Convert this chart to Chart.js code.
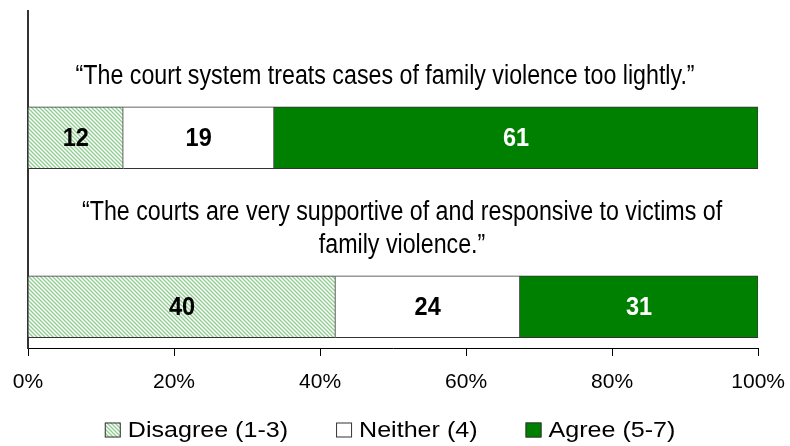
<!DOCTYPE html>
<html>
<head>
<meta charset="utf-8">
<script src="https://cdn.jsdelivr.net/npm/chart.js@4/dist/chart.umd.min.js"></script>
<style>
  html, body { margin: 0; padding: 0; background: #fff; }
  #wrap { width: 790px; height: 446px; }
</style>
</head>
<body>
<div id="wrap"><canvas id="stacked-chart" width="790" height="446"></canvas></div>
<script>
// survey statements, each shown above its own bar
var statements = [
  ['\u201cThe court system treats cases of family violence too lightly.\u201d'],
  ['\u201cThe courts are very supportive of and responsive to victims of', 'family violence.\u201d']
];
var seriesNames = ['Disagree (1-3)', 'Neither (4)', 'Agree (5-7)'];
var disagree = [12, 40];
var neither = [19, 24];
var agree = [61, 31];
var tickLabels = ['0%', '20%', '40%', '60%', '80%', '100%'];

// rows: caption slot, bar, caption slot, bar
var rowLabels = ['cap1', 'bar1', 'cap2', 'bar2'];
var barRows = [1, 3];

var SANS = '"Liberation Sans", Arial, sans-serif';

function hatchPattern() {
  var c = document.createElement('canvas');
  c.width = 4; c.height = 4;
  var g = c.getContext('2d');
  g.fillStyle = '#ffffff';
  g.fillRect(0, 0, 4, 4);
  g.strokeStyle = '#8fcc8f';
  g.lineWidth = 1.3;
  g.beginPath();
  g.moveTo(-1, -1); g.lineTo(5, 5);
  g.moveTo(-1, 3); g.lineTo(1, 5);
  g.moveTo(3, -1); g.lineTo(5, 1);
  g.stroke();
  return g.createPattern(c, 'repeat');
}

// spread raw counts onto the 4 rows, as share of each bar's total
function toRows(values) {
  var out = [null, null, null, null];
  for (var i = 0; i < barRows.length; i++) {
    var total = disagree[i] + neither[i] + agree[i];
    out[barRows[i]] = values[i] / total * 100;
  }
  return out;
}
function rawRows(values) {
  var out = [null, null, null, null];
  for (var i = 0; i < barRows.length; i++) out[barRows[i]] = values[i];
  return out;
}

// text squeezed or stretched horizontally
function scaledText(ctx, text, x, y, sx) {
  ctx.save();
  ctx.translate(x, y);
  ctx.scale(sx, 1);
  ctx.fillText(text, 0, 0);
  ctx.restore();
}

var labelPlugin = {
  id: 'labels',
  afterDatasetsDraw: function (chart) {
    var ctx = chart.ctx;
    ctx.save();
    ctx.textAlign = 'center';
    ctx.textBaseline = 'middle';
    ctx.font = 'bold 25px ' + SANS;
    chart.data.datasets.forEach(function (ds, di) {
      var meta = chart.getDatasetMeta(di);
      meta.data.forEach(function (bar, i) {
        if (ds.raw[i] == null) return;
        ctx.fillStyle = di === 2 ? '#ffffff' : '#000000';
        var p = bar.getProps(['x', 'base', 'y'], true);
        scaledText(ctx, String(ds.raw[i]), (p.x + p.base) / 2, p.y + 1, 0.94);
      });
    });

    // statement captions above each bar
    var area = chart.chartArea;
    var cx = (area.left + area.right) / 2;
    var shift = [-8, 9];
    ctx.fillStyle = '#000000';
    ctx.textBaseline = 'alphabetic';
    ctx.font = '27px ' + SANS;
    var bars = chart.getDatasetMeta(0).data;
    barRows.forEach(function (row, k) {
      var b = bars[row];
      var top = b.y - b.height / 2;
      var lines = statements[k];
      for (var j = 0; j < lines.length; j++) {
        var y = top - 23 - (lines.length - 1 - j) * 33;
        scaledText(ctx, lines[j], cx + shift[k], y, 0.86);
      }
    });

    // legend row under the axis
    var sx = 1.14, box = 16, gapText = 7, gapItem = 48;
    ctx.font = '22px ' + SANS;
    ctx.textAlign = 'left';
    ctx.textBaseline = 'middle';
    var widths = seriesNames.map(function (n) { return ctx.measureText(n).width * sx; });
    var total = 0;
    widths.forEach(function (w, i) { total += box + gapText + w + (i ? gapItem : 0); });
    var lx = cx - total / 2 - 3;
    var ly = 430;
    chart.data.datasets.forEach(function (ds, i) {
      ctx.fillStyle = ds.backgroundColor;
      ctx.fillRect(lx, ly - 7.5, box, 15);
      ctx.strokeStyle = '#333333';
      ctx.lineWidth = 1;
      ctx.strokeRect(lx + 0.5, ly - 7, box - 1, 14);
      ctx.fillStyle = '#000000';
      scaledText(ctx, seriesNames[i], lx + box + gapText, ly + 1, sx);
      lx += box + gapText + widths[i] + gapItem;
    });
    ctx.restore();
  }
};

var hatch = hatchPattern();

new Chart(document.getElementById('stacked-chart'), {
  type: 'bar',
  data: {
    labels: rowLabels,
    datasets: [
      { label: seriesNames[0], data: toRows(disagree), raw: rawRows(disagree), backgroundColor: hatch, borderColor: '#333333', borderWidth: 1 },
      { label: seriesNames[1], data: toRows(neither), raw: rawRows(neither), backgroundColor: '#ffffff', borderColor: '#333333', borderWidth: 1 },
      { label: seriesNames[2], data: toRows(agree), raw: rawRows(agree), backgroundColor: '#008000', borderColor: '#333333', borderWidth: 1 }
    ]
  },
  options: {
    indexAxis: 'y',
    responsive: false,
    animation: false,
    layout: { padding: { left: 28, right: 8, top: 11, bottom: 37 } },
    datasets: { bar: { barThickness: 62 } },
    scales: {
      x: {
        stacked: true,
        min: 0,
        max: 100,
        ticks: {
          stepSize: 20,
          color: '#000',
          padding: 5,
          maxRotation: 0,
          // tall line box pushes the labels down without widening side padding
          font: { family: SANS, size: 21, lineHeight: 2.05 },
          callback: function (v, i) { return tickLabels[i]; }
        },
        grid: { drawOnChartArea: false, drawTicks: true, tickLength: 7, color: '#000' },
        border: { color: '#000', width: 1 }
      },
      y: {
        stacked: true,
        ticks: { display: false },
        grid: { display: false, drawTicks: false },
        border: { color: '#333', width: 2 }
      }
    },
    plugins: {
      tooltip: { enabled: false },
      legend: { display: false }
    }
  },
  plugins: [labelPlugin]
});
</script>
</body>
</html>
